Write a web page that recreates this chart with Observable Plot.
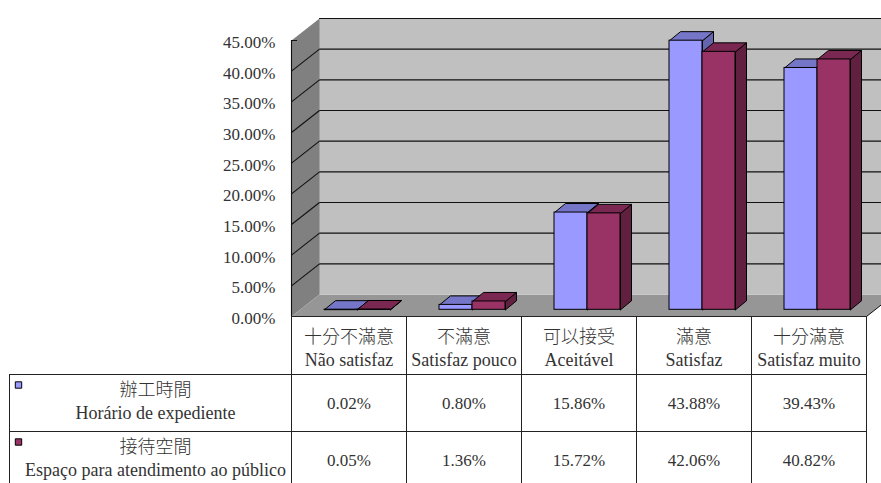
<!DOCTYPE html>
<html><head><meta charset="utf-8">
<script src="https://cdn.jsdelivr.net/npm/d3@7"></script>
<script src="https://cdn.jsdelivr.net/npm/@observablehq/plot@0.6"></script>
<style>body{margin:0;background:#fff} svg text{font-family:'Liberation Serif','Noto Sans CJK TC',serif !important}</style>
</head><body><div id="chart"></div>
<script>
// ---- data ----
const categoriesZh = ["十分不滿意", "不滿意", "可以接受", "滿意", "十分滿意"];
const categoriesPt = ["Não satisfaz", "Satisfaz pouco", "Aceitável", "Satisfaz", "Satisfaz muito"];
const seriesZh = ["辦工時間", "接待空間"];
const seriesPt = ["Horário de expediente", "Espaço para atendimento ao público"];
const horario = [0.02, 0.80, 15.86, 43.88, 39.43];
const espaco = [0.05, 1.36, 15.72, 42.06, 40.82];
const yTicks = [0, 5, 10, 15, 20, 25, 30, 35, 40, 45];
const yTickLabels = ["0.00%", "5.00%", "10.00%", "15.00%", "20.00%", "25.00%", "30.00%", "35.00%", "40.00%", "45.00%"];

// ---- layout / style ----
const W = 881, H = 483, mL = 291, mR = 15, mT = 40, mB = 167;
const nCat = categoriesZh.length, yMax = 45;
const pxX = (W - mL - mR) / nCat, pxY = (H - mT - mB) / yMax;
const ux = p => p / pxX, uy = p => p / pxY;
const wallDX = ux(28), wallDY = uy(22);
const barLeft = ux(33), barW = ux(33), barBase = uy(6.7), barDX = ux(11), barDY = uy(9);
const colors = [
  {front: "#9999FF", top: "#7676C8", side: "#6565AE"},
  {front: "#993366", top: "#7A2852", side: "#622041"}
];
const series = [horario, espaco];
const fontFam = "'Liberation Serif','Noto Sans CJK TC',serif";
const txt = "#333";

// bars
const bars = [];
series.forEach((vals, s) => vals.forEach((v, i) => {
  const x1 = i + barLeft + s * barW, x2 = x1 + barW;
  bars.push({s, i, v, x1, x2, y1: barBase, y2: v + barBase});
}));
const poly = (pts, id) => pts.concat([pts[0]]).map(([x, y]) => ({x, y, id}));
const topFaces = s => bars.filter(b => b.s === s).flatMap((b, k) => poly([
  [b.x1, b.y2], [b.x2, b.y2], [b.x2 + barDX, b.y2 + barDY], [b.x1 + barDX, b.y2 + barDY]], k));
const sideFaces = s => bars.filter(b => b.s === s).flatMap((b, k) => poly([
  [b.x2, b.y1], [b.x2, b.y2], [b.x2 + barDX, b.y2 + barDY], [b.x2 + barDX, b.y1 + barDY]], k));

const sideWall = poly([[0, 0], [0, yMax], [wallDX, yMax + wallDY], [wallDX, wallDY]], 0);
const floor = poly([[0, 0], [nCat, 0], [nCat + wallDX, wallDY], [wallDX, wallDY]], 0);

// table geometry (pixel distances below the front baseline, converted to y units)
const tY = p => -uy(p);
const headerH = 58, rowH = 57, tableBottom = 170;
const legendLeft = -ux(282), legendCenter = -ux(136);
const cats = d3.range(nCat);
const T = {fontFamily: fontFam, fill: txt};

const chart = Plot.plot({
  width: W, height: H,
  marginLeft: mL, marginRight: mR, marginTop: mT, marginBottom: mB,
  x: {type: "linear", domain: [0, nCat], axis: null},
  y: {type: "linear", domain: [0, yMax], axis: null},
  style: {fontFamily: fontFam, background: "#fff", color: txt},
  marks: [
    // back wall
    Plot.rect([0], {x1: () => wallDX, x2: () => nCat + wallDX, y1: () => wallDY, y2: () => yMax + wallDY, fill: "#C0C0C0"}),
    Plot.ruleY(yTicks.filter(t => t > 0), {y: t => t + wallDY, x1: () => wallDX, x2: () => nCat + wallDX, stroke: "#111", strokeWidth: 1.1}),
    // side wall
    Plot.line(sideWall, {x: "x", y: "y", z: "id", fill: "#808080", stroke: "none"}),
    Plot.link(yTicks.filter(t => t > 0 && t < yMax), {x1: () => 0, y1: t => t, x2: () => wallDX, y2: t => t + wallDY, stroke: "#111", strokeWidth: 1.1}),
    // floor
    Plot.line(floor, {x: "x", y: "y", z: "id", fill: "#969696", stroke: "none"}),
    Plot.link([0], {x1: () => nCat, y1: () => 0, x2: () => nCat + wallDX, y2: () => wallDY, stroke: "#111"}),
    // front axis
    Plot.ruleX([0], {y1: 0, y2: yMax, stroke: "#111", strokeWidth: 1.1}),
    Plot.ruleY([yMax], {x1: () => 0, x2: () => ux(6), stroke: "#111"}),
    Plot.text(yTicks, {x: () => 0, y: t => t, dx: -16, dy: 2, text: (t, i) => yTickLabels[i], textAnchor: "end", fontSize: 17, ...T}),
    // bars: sides, tops, fronts
    ...[0, 1].map(s => Plot.line(sideFaces(s), {x: "x", y: "y", z: "id", fill: colors[s].side, stroke: "#000", strokeWidth: 1})),
    ...[0, 1].map(s => Plot.line(topFaces(s), {x: "x", y: "y", z: "id", fill: colors[s].top, stroke: "#000", strokeWidth: 1})),
    ...[0, 1].map(s => Plot.rect(bars.filter(b => b.s === s), {x1: "x1", x2: "x2", y1: "y1", y2: "y2", fill: colors[s].front, stroke: "#000", strokeWidth: 1})),
    // table lines
    Plot.ruleY([0], {x1: () => 0, x2: () => nCat, stroke: "#222"}),
    Plot.ruleY([headerH, headerH + rowH], {y: p => tY(p), x1: () => legendLeft, x2: () => nCat, stroke: "#222"}),
    Plot.ruleX(d3.range(nCat + 1), {x: d => d, y1: () => 0, y2: () => tY(tableBottom), stroke: "#222"}),
    Plot.ruleX([legendLeft], {y1: () => tY(headerH), y2: () => tY(tableBottom), stroke: "#222"}),
    // header labels
    Plot.text(cats, {x: i => i + 0.5, y: () => 0, dy: 21, text: i => categoriesZh[i], fontSize: 18, fontWeight: 300, ...T}),
    Plot.text(cats, {x: i => i + 0.5, y: () => 0, dy: 44, text: i => categoriesPt[i], fontSize: 18, ...T}),
    // legend column
    ...[0, 1].map(s => Plot.dot([s], {x: () => legendLeft, y: () => tY(headerH + s * rowH), dx: 9, dy: 10.5, symbol: "square", r: 3.6, fill: colors[s].front, stroke: "#000", strokeWidth: 1})),
    Plot.text([0, 1], {x: () => legendCenter, y: s => tY(headerH + s * rowH), dy: 16, text: s => seriesZh[s], fontSize: 18, fontWeight: 300, ...T}),
    Plot.text([0, 1], {x: () => legendCenter, y: s => tY(headerH + s * rowH), dy: 39, text: s => seriesPt[s], fontSize: 18, ...T}),
    // values
    ...[0, 1].map(s => Plot.text(cats, {x: i => i + 0.5, y: () => tY(headerH + s * rowH), dy: 29.5, text: i => series[s][i].toFixed(2) + "%", fontSize: 17, ...T}))
  ]
});
document.getElementById("chart").append(chart);
</script>
</body></html>
